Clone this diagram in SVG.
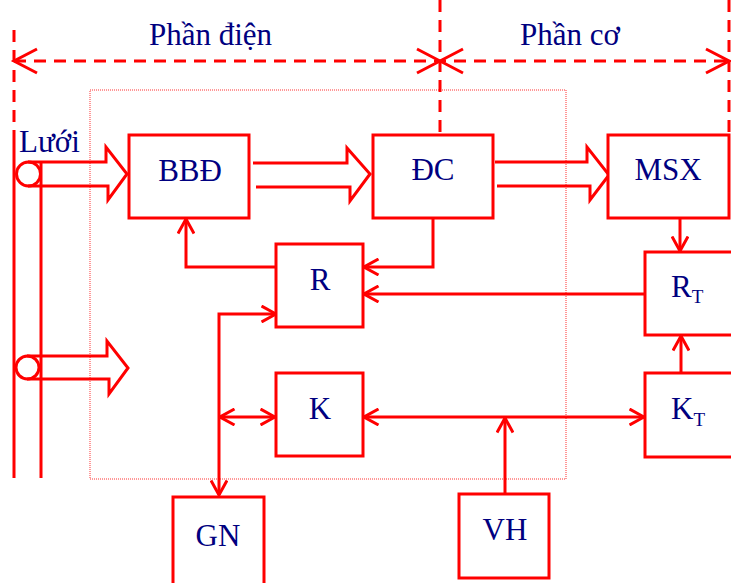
<svg xmlns="http://www.w3.org/2000/svg" width="731" height="583" viewBox="0 0 731 583">
<style>
.box{fill:#fff;stroke:#ff0000;stroke-width:3}
.ln{fill:none;stroke:#ff0000;stroke-width:3}
.dash{fill:none;stroke:#ff0000;stroke-width:3;stroke-dasharray:12 8}
.dot{fill:none;stroke:#ff3030;stroke-width:1;stroke-dasharray:1 1}
.t{font-family:"Liberation Serif","Times New Roman",serif;font-size:31px;fill:#000080}
.c{text-anchor:middle}
.s{font-size:19px}
</style>
<defs>
<marker id="ah" viewBox="0 0 17 18" markerWidth="17" markerHeight="18" refX="15.5" refY="9" orient="auto-start-reverse" markerUnits="userSpaceOnUse">
<path d="M1,1 L15.5,9 L1,17" fill="none" stroke="#ff0000" stroke-width="3"/>
</marker>
</defs>
<rect width="731" height="583" fill="#fff"/>

<g id="region">
<rect class="dot" x="90" y="90" width="476" height="389"/>
<path class="dash" d="M14,30 V140"/>
<path class="dash" d="M14,61 H729"/>
<path class="dash" d="M440,0 V135"/>
<path class="dash" d="M729,0 V135"/>
<path class="ln" d="M37,49 L14,61 L37,73 M417,49 L463,73 M417,73 L463,49 M706,49 L729,61 L706,73"/>
<text class="t" x="149" y="45">Phần điện</text>
<text class="t" x="520" y="45">Phần cơ</text>
</g>

<g id="luoi">
<path class="ln" d="M14,140 V478 M41,162 V478"/>
<circle class="ln" cx="28.5" cy="174" r="12"/>
<circle class="ln" cx="27.5" cy="367.5" r="11.5"/>
<text class="t" x="19" y="152">Lưới</text>
</g>

<g id="connectors">
<path class="ln" d="M28,162 H106 V147 L127,174 L108,200 V186 H28"/>
<path class="ln" d="M27,356 H107 V341 L128,368 L109,394 V379 H27"/>
<path class="ln" d="M253,163 H347 V148 L370,174 L350,201 V187 H256"/>
<path class="ln" d="M495,162 H587 V147 L609,175 L590,200 V186 H497"/>
<path class="ln" d="M276,267 H186 V219" marker-end="url(#ah)"/>
<path class="ln" d="M433,218 V267 H364" marker-end="url(#ah)"/>
<path class="ln" d="M645,294 H364" marker-end="url(#ah)"/>
<path class="ln" d="M276,314 H219 V495" marker-start="url(#ah)" marker-end="url(#ah)"/>
<path class="ln" d="M220,417 H275" marker-start="url(#ah)" marker-end="url(#ah)"/>
<path class="ln" d="M364,417 H644" marker-start="url(#ah)" marker-end="url(#ah)"/>
<path class="ln" d="M505,494 V418" marker-end="url(#ah)"/>
<path class="ln" d="M680,218 V251" marker-end="url(#ah)"/>
<path class="ln" d="M681,373 V336" marker-end="url(#ah)"/>
</g>

<g id="BBD"><rect class="box" x="129" y="135" width="120" height="83"/><text class="t c" x="190" y="181">BBĐ</text></g>
<g id="DC"><rect class="box" x="373" y="135" width="120" height="83"/><text class="t c" x="433" y="180">ĐC</text></g>
<g id="MSX"><rect class="box" x="608" y="135" width="121" height="83"/><text class="t c" x="668" y="180">MSX</text></g>
<g id="R"><rect class="box" x="276" y="244" width="87" height="83"/><text class="t c" x="320" y="290">R</text></g>
<g id="RT"><rect class="box" x="645" y="252" width="100" height="83"/><text class="t" x="671" y="297">R<tspan class="s" dy="6">T</tspan></text></g>
<g id="K"><rect class="box" x="276" y="373" width="87" height="83"/><text class="t c" x="320" y="419">K</text></g>
<g id="KT"><rect class="box" x="645" y="373" width="100" height="84"/><text class="t" x="671" y="419">K<tspan class="s" dy="7">T</tspan></text></g>
<g id="GN"><rect class="box" x="173" y="497" width="91" height="95"/><text class="t c" x="218" y="546">GN</text></g>
<g id="VH"><rect class="box" x="459" y="494" width="90" height="84"/><text class="t c" x="505" y="540">VH</text></g>
</svg>
